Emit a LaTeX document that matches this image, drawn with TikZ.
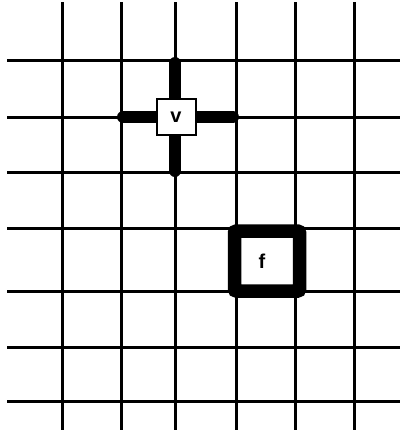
\documentclass[tikz,border=0pt]{standalone}
\usepackage{fontspec}
\setmainfont{Liberation Sans}
\begin{document}
\begin{tikzpicture}[x=1pt,y=-1pt,
  gridline/.style={line width=3pt,black},
  crossarm/.style={line width=12pt,black,line cap=round},
  vbox/.style={draw,line width=2pt,fill=white,minimum width=39pt,minimum height=36pt,inner sep=0pt,font=\fontsize{20}{20}\selectfont\bfseries},
  fbox/.style={draw,line width=13.5pt,fill=white,rounded corners=2pt,minimum width=65pt,minimum height=60pt,inner sep=0pt,font=\fontsize{20}{20}\selectfont\bfseries}]
\useasboundingbox (0,0) rectangle (400,432);
\foreach \x in {62,121,175,236,295,354} \draw[gridline] (\x,2) -- (\x,430);
\foreach \y in {60,117,172,228,291,347,401} \draw[gridline] (7,\y) -- (400,\y);
\coordinate (vn) at (175,63);
\coordinate (vs) at (175,171);
\coordinate (vw) at (123,117);
\coordinate (ve) at (233,117);
\draw[crossarm] (vn) -- (vs);
\draw[crossarm] (vw) -- (ve);
\node[vbox] (v) at (176,117) {v};
\node[fbox] (f) at (267,261) {\hspace*{-10pt}f};
\end{tikzpicture}
\end{document}
